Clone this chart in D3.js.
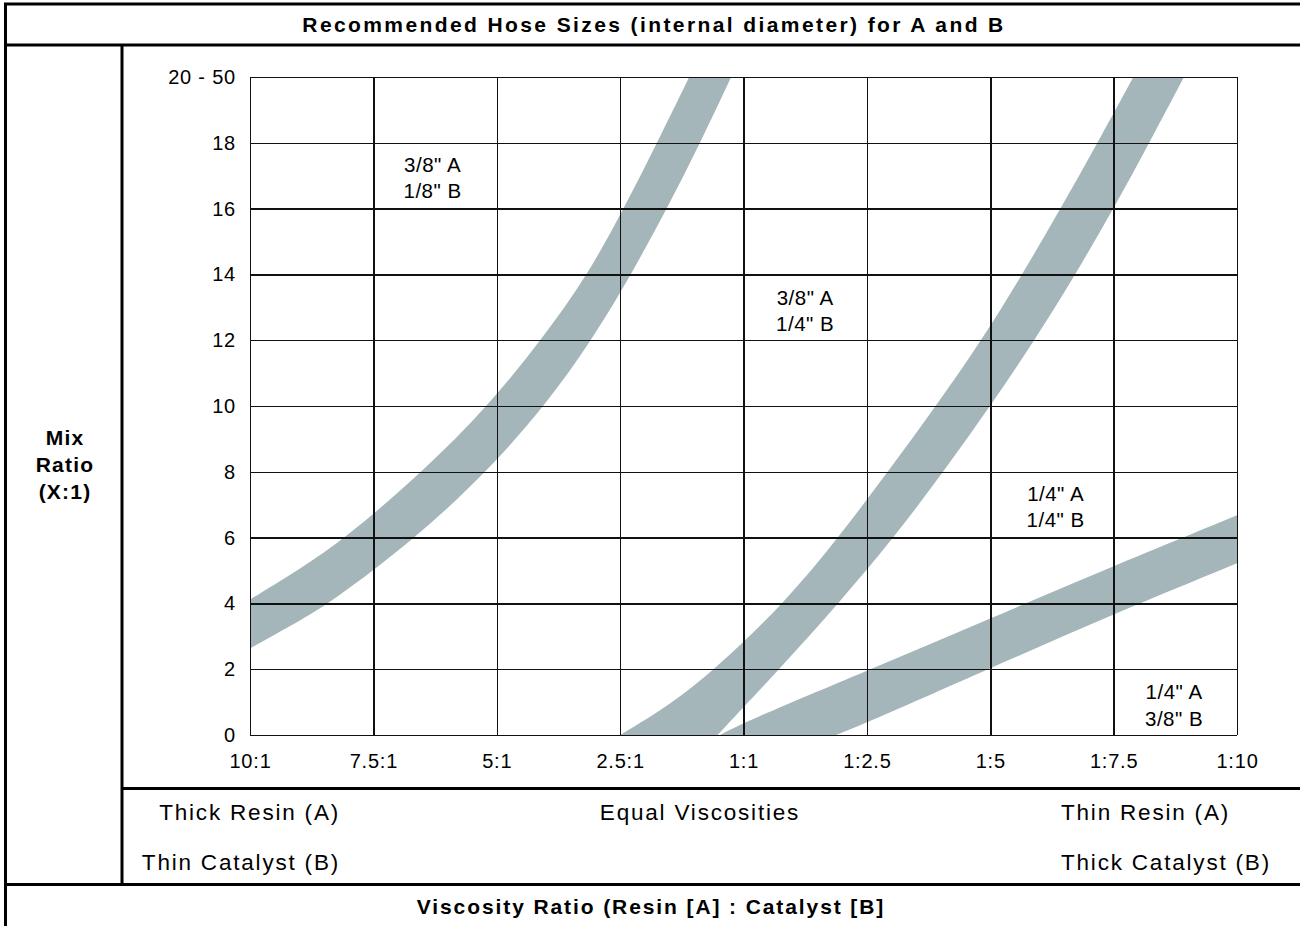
<!DOCTYPE html>
<html>
<head>
<meta charset="utf-8">
<script src="https://cdn.jsdelivr.net/npm/d3@7"></script>
<style>
  body { margin: 0; background: #fff; }
  text { font-family: "Liberation Sans", Arial, sans-serif; fill: #000; }
  .grid line { stroke: #111; stroke-width: 1.5; shape-rendering: crispEdges; }
  .grid path { display: none; }
  .tick text { font-size: 20px; letter-spacing: 0.8px; }
  .frame { stroke: #000; stroke-width: 3; }
</style>
</head>
<body>
<script>
// axis categories and ticks
var xLabels = ['10:1', '7.5:1', '5:1', '2.5:1', '1:1', '1:2.5', '1:5', '1:7.5', '1:10'];
var yTicks = [0, 2, 4, 6, 8, 10, 12, 14, 16, 18, 20];
var yLabels = ['0', '2', '4', '6', '8', '10', '12', '14', '16', '18', '20 - 50'];

// band edges as [x index, mix ratio]
var band1Upper = [[0, 4.12], [0.39, 5.0], [0.78, 6.0], [1.4, 8.0], [1.93, 10.0], [2.36, 12.0], [2.74, 14.0], [3.03, 16.0], [3.3, 18.0], [3.56, 20.0]];
var band1Lower = [[0, 2.63], [0.32, 3.3], [0.65, 4.0], [1.35, 6.0], [1.92, 8.0], [2.39, 10.0], [2.77, 12.0], [3.09, 14.0], [3.38, 16.0], [3.65, 18.0], [3.9, 20.0]];
var band2Upper = [[3.0, 0], [3.4, 0.9], [3.77, 2.0], [4.33, 4.0], [4.77, 6.0], [5.17, 8.0], [5.56, 10.0], [5.93, 12.0], [6.26, 14.0], [6.57, 16.0], [6.87, 18.0], [7.16, 20.0]];
var band2Lower = [[3.79, 0], [4.29, 2.0], [4.77, 4.0], [5.22, 6.0], [5.62, 8.0], [6.0, 10.0], [6.36, 12.0], [6.69, 14.0], [7.0, 16.0], [7.29, 18.0], [7.57, 20.0]];
var band3Upper = [[3.81, 0], [4.0, 0.38], [5.0, 1.95], [6.0, 3.54], [7.0, 5.14], [8.0, 6.68]];
var band3Lower = [[4.75, 0], [5.0, 0.37], [6.0, 2.03], [7.0, 3.68], [8.0, 5.22]];

// hose size zones
var zoneX = [1.48, 4.5, 6.53, 7.49];
var zoneY = [16.95, 12.9, 6.94, 0.91];
var zoneText = [['3/8" A', '1/8" B'], ['3/8" A', '1/4" B'], ['1/4" A', '1/4" B'], ['1/4" A', '3/8" B']];

var bottomLeft = ['Thick Resin (A)', 'Thin Catalyst (B)'];
var bottomRight = ['Thin Resin (A)', 'Thick Catalyst (B)'];
var bottomMid = 'Equal Viscosities';
var yTitle = ['Mix', 'Ratio', '(X:1)'];
var topTitle = 'Recommended Hose Sizes (internal diameter) for A and B';
var xTitle = 'Viscosity Ratio (Resin [A] : Catalyst [B]';

var W = 1300, H = 926;
var plot = { left: 250, right: 1237, top: 77, bottom: 735 };
var width = plot.right - plot.left;
var height = plot.bottom - plot.top;

var svg = d3.select('body').append('svg')
  .attr('width', W)
  .attr('height', H);

var xScale = d3.scaleLinear().domain([0, xLabels.length - 1]).range([0, width]);
var yScale = d3.scaleLinear().domain([0, 20]).range([height, 0]);

var g = svg.append('g')
  .attr('transform', `translate(${plot.left}, ${plot.top})`);

g.append('clipPath').attr('id', 'clip')
  .append('rect').attr('width', width).attr('height', height);

var edge = d3.line()
  .x(function(d) { return xScale(d[0]); })
  .y(function(d) { return yScale(d[1]); })
  .curve(d3.curveBasis);

function bandPath(upper, lower) {
  var a = edge(upper);
  var b = edge(lower.slice().reverse());
  return a + 'L' + b.slice(1) + 'Z';
}

var bands = [[band1Upper, band1Lower], [band2Upper, band2Lower], [band3Upper, band3Lower]];

g.append('g')
  .attr('clip-path', 'url(#clip)')
  .selectAll('path')
  .data(bands)
  .enter().append('path')
  .attr('fill', '#a4b6b9')
  .attr('d', function(d) { return bandPath(d[0], d[1]); });

// grid lines + tick labels
g.append('g')
  .attr('class', 'grid')
  .attr('transform', `translate(0, ${height})`)
  .call(
    d3.axisBottom(xScale)
      .tickValues(d3.range(xLabels.length))
      .tickSize(-height)
      .tickPadding(19)
      .tickFormat(function(i) { return xLabels[i]; })
  );

g.append('g')
  .attr('class', 'grid')
  .call(
    d3.axisLeft(yScale)
      .tickValues(yTicks)
      .tickSize(-width)
      .tickPadding(14)
      .tickFormat(function(v, i) { return yLabels[i]; })
  );

g.selectAll('.tick text').attr('fill', '#000');

// zone labels
zoneText.forEach(function(lines, i) {
  var t = g.append('text')
    .attr('text-anchor', 'middle')
    .style('font-size', '20.5px')
    .style('letter-spacing', '0.5px')
    .attr('x', xScale(zoneX[i]))
    .attr('y', yScale(zoneY[i]));
  lines.forEach(function(s, j) {
    t.append('tspan')
      .attr('x', xScale(zoneX[i]))
      .attr('dy', j === 0 ? '-0.28em' : '1.29em')
      .text(s);
  });
});

// table frame
var frame = [
  [4, 4, W, 4],
  [5.5, 4, 5.5, H],
  [4, 45, W, 45],
  [122, 45, 122, 884.5],
  [122, 788.5, W, 788.5],
  [4, 884.5, W, 884.5]
];
svg.selectAll('line.frame')
  .data(frame)
  .enter().append('line')
  .attr('class', 'frame')
  .attr('x1', function(d) { return d[0]; })
  .attr('y1', function(d) { return d[1]; })
  .attr('x2', function(d) { return d[2]; })
  .attr('y2', function(d) { return d[3]; });

svg.append('text')
  .attr('x', 654).attr('y', 32)
  .attr('text-anchor', 'middle')
  .style('font-size', '21px')
  .style('font-weight', 'bold')
  .style('letter-spacing', '2.4px')
  .text(topTitle);

svg.append('text')
  .attr('x', 651).attr('y', 914)
  .attr('text-anchor', 'middle')
  .style('font-size', '21px')
  .style('font-weight', 'bold')
  .style('letter-spacing', '1.9px')
  .text(xTitle);

svg.selectAll('text.ytitle')
  .data(yTitle)
  .enter().append('text')
  .attr('class', 'ytitle')
  .attr('x', 65)
  .attr('y', function(d, i) { return 445 + i * 27; })
  .attr('text-anchor', 'middle')
  .style('font-size', '21px')
  .style('font-weight', 'bold')
  .style('letter-spacing', '1.2px')
  .text(function(d) { return d; });

// notes under the axis
var noteStyle = function(sel) {
  sel.style('font-size', '22.5px').style('letter-spacing', '1.8px');
};

svg.selectAll('text.bl')
  .data(bottomLeft)
  .enter().append('text')
  .attr('class', 'bl')
  .attr('x', 340)
  .attr('y', function(d, i) { return 820 + i * 50; })
  .attr('text-anchor', 'end')
  .call(noteStyle)
  .text(function(d) { return d; });

svg.selectAll('text.br')
  .data(bottomRight)
  .enter().append('text')
  .attr('class', 'br')
  .attr('x', 1061)
  .attr('y', function(d, i) { return 820 + i * 50; })
  .call(noteStyle)
  .text(function(d) { return d; });

svg.append('text')
  .attr('x', 700).attr('y', 820)
  .attr('text-anchor', 'middle')
  .call(noteStyle)
  .text(bottomMid);
</script>
</body>
</html>
